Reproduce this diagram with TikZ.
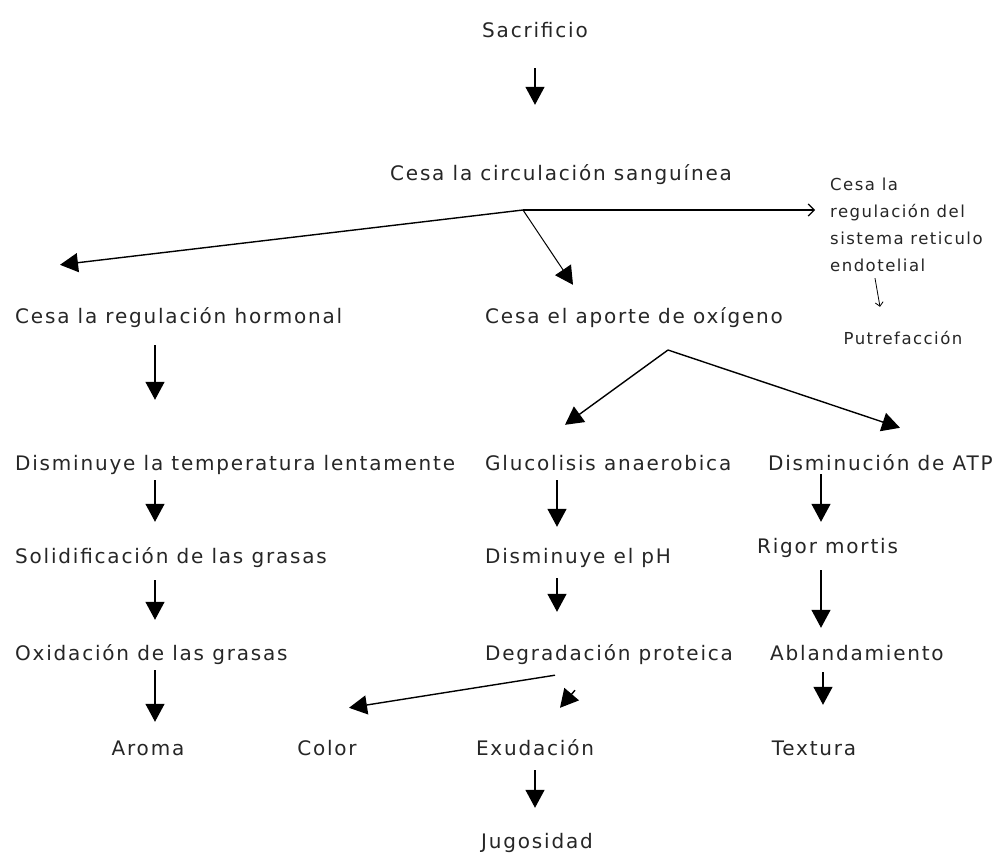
\documentclass[tikz,border=0pt]{standalone}
\usepackage{fontspec}
\setmainfont{DejaVu Sans}[LetterSpace=9]
\usetikzlibrary{arrows.meta}
\tikzset{
  paso/.style={inner sep=0pt, text height=15pt, text depth=4pt, text=black!85, font=\fontsize{20}{24}\selectfont},
  nota/.style={inner sep=0pt, align=left, text=black!85, font=\fontsize{16.5}{27}\selectfont},
  flecha/.style={line width=1.4pt, -{Triangle[length=18pt,width=19pt]}},
  flechaab/.style={line width=1.2pt, -{Straight Barb[length=6pt,width=12pt]}},
}
\begin{document}
\begin{tikzpicture}[x=1pt, y=-1pt]
    \useasboundingbox[fill=white] (0,0) rectangle (1002,859);

    % textos
    \node[paso, anchor=base] (sacr) at (535,38) {Sacrificio};
    \node[paso, anchor=base] (circ) at (561,180) {Cesa la circulación sanguínea};
    \node[nota, anchor=north west] (nota) at (830,178) {Cesa la\\regulación del\\sistema reticulo\\endotelial};
    \node[nota, anchor=base, text height=11pt] (putre) at (903,344) {Putrefacción};

    \node[paso, anchor=base west] (hormonal) at (15,323) {Cesa la regulación hormonal};
    \node[paso, anchor=base west] (oxig) at (485,323) {Cesa el aporte de oxígeno};

    \node[paso, anchor=base west] (temp) at (15,470) {Disminuye la temperatura lentamente};
    \node[paso, anchor=base west] (gluc) at (485,470) {Glucolisis anaerobica};
    \node[paso, anchor=base west] (atp) at (768,470) {Disminución de ATP};

    \node[paso, anchor=base west] (solid) at (15,563) {Solidificación de las grasas};
    \node[paso, anchor=base west] (ph) at (485,563) {Disminuye el pH};
    \node[paso, anchor=base west] (rigor) at (757,553) {Rigor mortis};

    \node[paso, anchor=base west] (oxid) at (15,660) {Oxidación de las grasas};
    \node[paso, anchor=base west] (degrad) at (485,660) {Degradación proteica};
    \node[paso, anchor=base west] (ablan) at (770,660) {Ablandamiento};

    \node[paso, anchor=base] (aroma) at (148,755) {Aroma};
    \node[paso, anchor=base] (color) at (327,755) {Color};
    \node[paso, anchor=base] (exud) at (535,755) {Exudación};
    \node[paso, anchor=base] (textura) at (814,755) {Textura};
    \node[paso, anchor=base] (jugos) at (537,848) {Jugosidad};

    % puntos de ramificacion y columnas
    \coordinate (split) at (523,210);
    \coordinate (split2) at (668,350);
    \coordinate (c1) at (155,0);
    \coordinate (c2) at (557,0);
    \coordinate (c3) at (821,0);

    % flechas
    \draw[flecha, shorten <=26pt, shorten >=60pt] (sacr.south) -- (sacr.south |- circ.north);
    \draw[flechaab, shorten >=15pt] (split) -- (split -| nota.west);
    \draw[flecha] (split) -- ([xshift=45pt, yshift=43pt]hormonal.north west);
    \draw[flecha, line width=1pt] (split) -- ([xshift=88pt, yshift=23pt]oxig.north west);
    \draw[flechaab, line width=0.8pt, -{Straight Barb[length=4pt,width=8pt]}] ([xshift=45pt, yshift=-6pt]nota.south west) -- ([xshift=-23pt, yshift=26pt]putre.north);

    \draw[flecha] (split2) -- ([xshift=80pt, yshift=30pt]gluc.north west);
    \draw[flecha] (split2) -- ([xshift=132pt, yshift=27pt]atp.north west);

    \draw[flecha, shorten <=18pt, shorten >=55pt] (hormonal.south -| c1) -- (temp.north -| c1);
    \draw[flecha, shorten <=6pt, shorten >=26pt] (temp.south -| c1) -- (solid.north -| c1);
    \draw[flecha, shorten <=13pt, shorten >=25pt] (solid.south -| c1) -- (oxid.north -| c1);
    \draw[flecha, shorten <=6pt, shorten >=18pt] (oxid.south -| c1) -- (aroma.north -| c1);

    \draw[flecha, shorten <=6pt, shorten >=21pt] (gluc.south -| c2) -- (ph.north -| c2);
    \draw[flecha, shorten <=11pt, shorten >=33pt] (ph.south -| c2) -- (degrad.north -| c2);
    \draw[flecha] ([xshift=70pt, yshift=-11pt]degrad.south west) -- ([xshift=22pt, yshift=32pt]color.north);
    \draw[flecha] ([xshift=90pt, yshift=-26pt]degrad.south west) -- ([xshift=25pt, yshift=32pt]exud.north);
    \draw[flecha, shorten <=11pt, shorten >=25pt] (exud.south) -- (exud.south |- jugos.north);

    \draw[flecha, shorten >=16pt] (atp.south -| c3) -- (rigor.north -| c3);
    \draw[flecha, shorten <=13pt, shorten >=17pt] (rigor.south -| c3) -- (ablan.north -| c3);
    \draw[flecha, shorten <=8pt, shorten >=35pt] ([xshift=2pt]ablan.south -| c3) -- ([xshift=2pt]textura.north -| c3);
\end{tikzpicture}
\end{document}
